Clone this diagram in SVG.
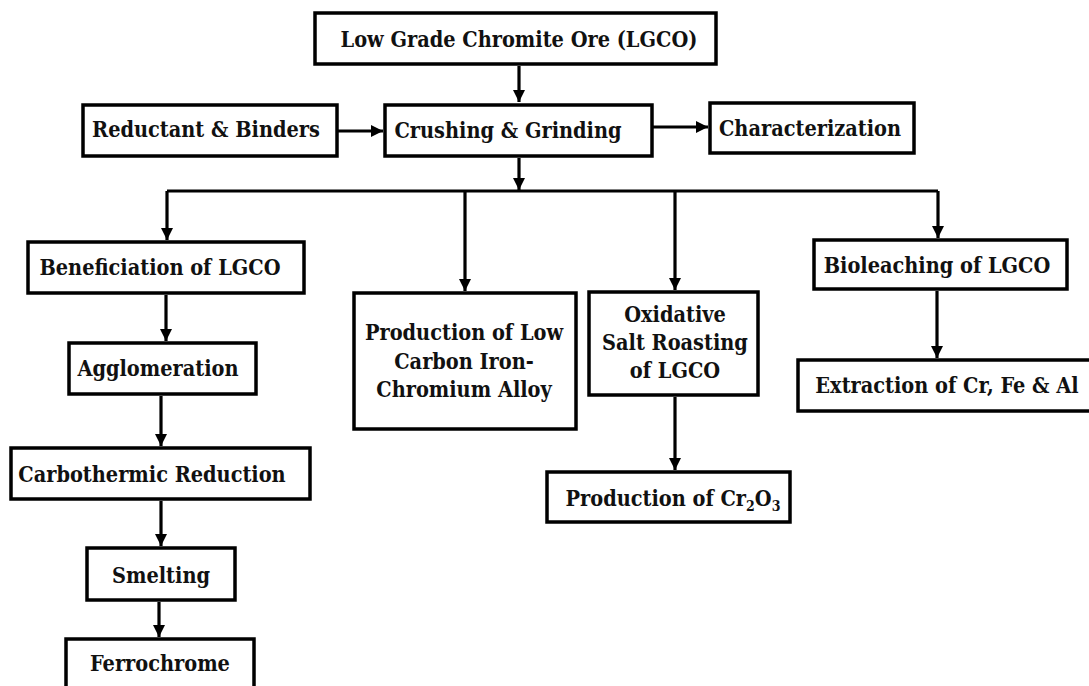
<svg xmlns="http://www.w3.org/2000/svg" width="1089" height="686" viewBox="0 0 1089 686">
  <style>
    .box { fill: #ffffff; stroke: #000000; stroke-width: 3.5; }
    .lbl { font-family: "DejaVu Serif Condensed", "DejaVu Serif", serif; font-stretch: condensed; font-weight: bold; font-size: 21.5px; fill: #111111; text-anchor: middle; }
    .wire { fill: none; stroke: #000000; stroke-width: 3.2; }
  </style>
  <defs>
    <marker id="arrow" viewBox="0 0 10 10" refX="10" refY="5" markerUnits="userSpaceOnUse" markerWidth="12" markerHeight="12" orient="auto">
      <path d="M0,0 L10,5 L0,10 Z" fill="#000000"/>
    </marker>
  </defs>

  <!-- connectors -->
  <g id="connectors" class="wire" marker-end="url(#arrow)">
    <path d="M519,66 V102"/>
    <path d="M338,131 H383"/>
    <path d="M653,127 H708"/>
    <path d="M519,158 V190"/>
    <path d="M167,191 H938" marker-end="none"/>
    <path d="M167,191 V240"/>
    <path d="M465,191 V291"/>
    <path d="M675,191 V290"/>
    <path d="M938,191 V238"/>
    <path d="M166,295 V341"/>
    <path d="M937,291 V358"/>
    <path d="M675,397 V470"/>
    <path d="M161,396 V446"/>
    <path d="M161,501 V546"/>
    <path d="M159,602 V637"/>
  </g>

  <!-- nodes -->
  <g id="lgco">
    <rect class="box" x="315" y="13" width="401" height="51"/>
    <text class="lbl" x="519" y="47">Low Grade Chromite Ore (LGCO)</text>
  </g>
  <g id="reductant">
    <rect class="box" x="83" y="105" width="254" height="51"/>
    <text class="lbl" x="206" y="137">Reductant &amp; Binders</text>
  </g>
  <g id="crushing">
    <rect class="box" x="385" y="105" width="267" height="51"/>
    <text class="lbl" x="508" y="138">Crushing &amp; Grinding</text>
  </g>
  <g id="characterization">
    <rect class="box" x="710" y="103" width="204" height="50"/>
    <text class="lbl" x="810" y="136">Characterization</text>
  </g>
  <g id="beneficiation">
    <rect class="box" x="28" y="242" width="276" height="51"/>
    <text class="lbl" x="160" y="275">Beneficiation of LGCO</text>
  </g>
  <g id="agglomeration">
    <rect class="box" x="69" y="343" width="187" height="51"/>
    <text class="lbl" x="158" y="376">Agglomeration</text>
  </g>
  <g id="carbothermic">
    <rect class="box" x="11" y="448" width="299" height="51"/>
    <text class="lbl" x="152" y="482">Carbothermic Reduction</text>
  </g>
  <g id="smelting">
    <rect class="box" x="87" y="548" width="148" height="52"/>
    <text class="lbl" x="161" y="583">Smelting</text>
  </g>
  <g id="ferrochrome">
    <rect class="box" x="66" y="639" width="188" height="60"/>
    <text class="lbl" x="160" y="671">Ferrochrome</text>
  </g>
  <g id="low-carbon-alloy">
    <rect class="box" x="354" y="293" width="222" height="136"/>
    <text class="lbl" x="464" y="340">Production of Low</text>
    <text class="lbl" x="464" y="369">Carbon Iron-</text>
    <text class="lbl" x="464" y="397">Chromium Alloy</text>
  </g>
  <g id="salt-roasting">
    <rect class="box" x="589" y="292" width="169" height="103"/>
    <text class="lbl" x="675" y="322">Oxidative</text>
    <text class="lbl" x="675" y="350">Salt Roasting</text>
    <text class="lbl" x="675" y="378">of LGCO</text>
  </g>
  <g id="cr2o3">
    <rect class="box" x="547" y="472" width="243" height="50"/>
    <text class="lbl" x="673" y="506">Production of Cr<tspan font-size="14" dy="5">2</tspan><tspan dy="-5">O</tspan><tspan font-size="14" dy="5">3</tspan></text>
  </g>
  <g id="bioleaching">
    <rect class="box" x="814" y="240" width="253" height="49"/>
    <text class="lbl" x="937" y="273">Bioleaching of LGCO</text>
  </g>
  <g id="extraction">
    <rect class="box" x="798" y="360" width="300" height="51"/>
    <text class="lbl" x="947" y="393">Extraction of Cr, Fe &amp; Al</text>
  </g>
</svg>
